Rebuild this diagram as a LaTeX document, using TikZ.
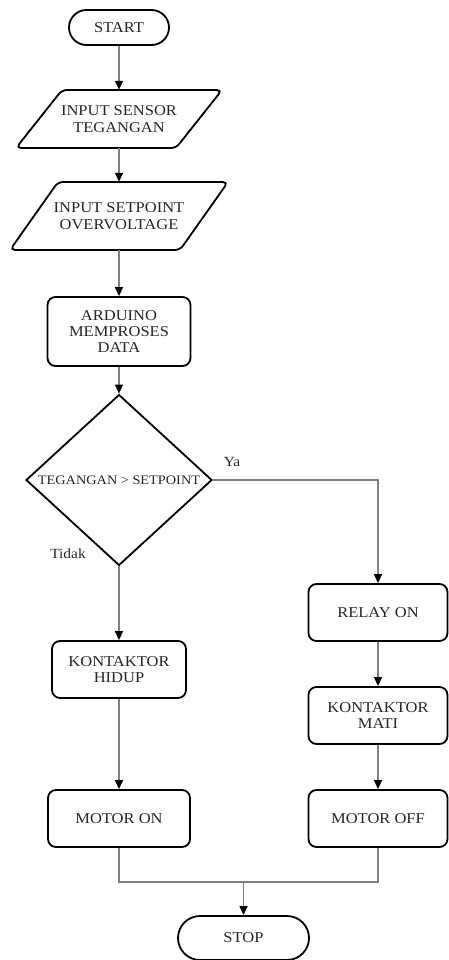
\documentclass[tikz,border=0pt]{standalone}
\usepackage{fontspec}
\setmainfont{Liberation Serif}[FakeStretch=1.1]
\usetikzlibrary{arrows.meta,shapes.geometric,shapes.misc,calc}
\begin{document}
\begin{tikzpicture}[x=1pt,y=1pt,
  every node/.style={font=\fontsize{15}{16.3}\selectfont, text=black!85, align=center},
  proc/.style={draw=black, line width=1.8pt, rounded corners=8pt, minimum height=57pt, inner sep=0pt},
  term/.style={draw=black, line width=1.8pt, rounded rectangle, inner sep=0pt},
  dec/.style={draw=black, line width=1.8pt, diamond, inner sep=0pt, minimum width=186pt, minimum height=136pt, font=\fontsize{13}{15}\selectfont},
  io/.style={inner sep=0pt},
  ioline/.style={draw=black, line width=1.8pt, rounded corners=5pt},
  conn/.style={draw=black!50, line width=1.3pt, -{Triangle[width=8pt,length=9pt,color=black]}},
  plainline/.style={draw=black!50, line width=1.3pt},
  lbl/.style={font=\fontsize{14}{16}\selectfont}
]
\useasboundingbox (0,0) rectangle (448,-960);

\node[term, minimum width=100pt, minimum height=35pt] (start) at (119,-27.5) {START};

\node[io, minimum height=58pt] (p1) at (119,-119) {INPUT SENSOR\\TEGANGAN};
\draw[ioline] ($(p1)+(-57,29)$) -- ($(p1)+(103,29)$) -- ($(p1)+(57,-29)$) -- ($(p1)+(-103,-29)$) -- cycle;

\node[io, minimum height=68pt] (p2) at (119,-216) {INPUT SETPOINT\\OVERVOLTAGE};
\draw[ioline] ($(p2)+(-61,34)$) -- ($(p2)+(109,34)$) -- ($(p2)+(61,-34)$) -- ($(p2)+(-109,-34)$) -- cycle;

\node[proc, minimum width=143pt, minimum height=69pt] (ard) at (119,-331.5) {ARDUINO\\MEMPROSES\\DATA};

\node[dec] (dec) at (119,-480) {TEGANGAN > SETPOINT};

\node[proc, minimum width=139pt] (relay) at (378,-612.5) {RELAY ON};
\node[proc, minimum width=139pt] (kmati) at (378,-715.5) {KONTAKTOR\\MATI};
\node[proc, minimum width=139pt] (moff) at (378,-818.5) {MOTOR OFF};

\node[proc, minimum width=134pt] (khidup) at (119,-669.5) {KONTAKTOR\\HIDUP};
\node[proc, minimum width=142pt] (mon) at (119,-818.5) {MOTOR ON};

\node[term, minimum width=131pt, minimum height=44pt] (stop) at (243.5,-938) {STOP};

\node[lbl] (ya) at (232,-462) {Ya};
\node[lbl] (tidak) at (68,-554) {Tidak};

\coordinate (m) at (243.5,-882);

\draw[conn] (start.south) -- (p1.north);
\draw[conn] (p1.south) -- (p2.north);
\draw[conn] (p2.south) -- (ard.north);
\draw[conn] (ard.south) -- (dec.north);
\draw[conn] (dec.east) -| (relay.north);
\draw[conn] (dec.south) -- (khidup.north);
\draw[conn] (relay.south) -- (kmati.north);
\draw[conn] (kmati.south) -- (moff.north);
\draw[conn] (khidup.south) -- (mon.north);
\draw[plainline] (mon.south) |- (m) -| (moff.south);
\draw[conn] (m) -- (stop.north);
\end{tikzpicture}
\end{document}
